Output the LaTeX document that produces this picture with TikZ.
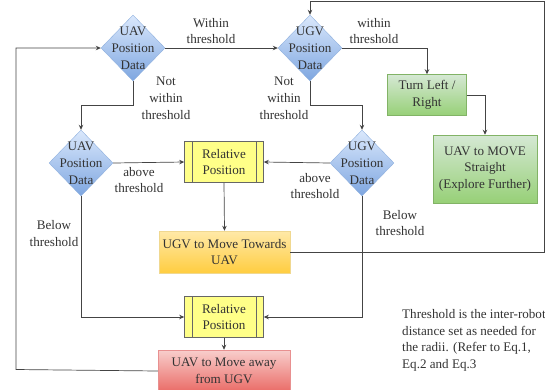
\documentclass[tikz,border=0pt]{standalone}
\usepackage{fontspec}
\setmainfont{Liberation Serif}
\usetikzlibrary{shapes.geometric,arrows.meta}
\definecolor{txt}{HTML}{333333}
\definecolor{lne}{HTML}{444444}
\definecolor{diatop}{HTML}{DAE8FC}
\definecolor{diabot}{HTML}{7EA6E0}
\definecolor{diaedge}{HTML}{8FB0DE}
\definecolor{grtop}{HTML}{D5E8D4}
\definecolor{grbot}{HTML}{97D077}
\definecolor{gredge}{HTML}{82B366}
\definecolor{ortop}{HTML}{FFE9A8}
\definecolor{orbot}{HTML}{FFCD40}
\definecolor{oredge}{HTML}{F0D890}
\definecolor{rdtop}{HTML}{F8CECC}
\definecolor{rdbot}{HTML}{EA6B66}
\definecolor{rdedge}{HTML}{E89090}
\definecolor{relfill}{HTML}{FFFF88}
\definecolor{reledge}{HTML}{666666}
\begin{document}
\begin{tikzpicture}[x=1pt,y=-1pt,
  every node/.style={font=\fontsize{13.1}{16.8}\selectfont, text=txt},
  dia/.style={diamond, minimum width=64pt, minimum height=66pt, inner sep=0pt,
    top color=diatop, bottom color=diabot, draw=diaedge, line width=0.4pt},
  dtext/.style={align=center, inner sep=0pt},
  lbl/.style={align=center, inner sep=0pt},
  greenbox/.style={rectangle, inner sep=0pt, align=center, top color=grtop, bottom color=grbot, draw=gredge, line width=0.5pt},
  orangebox/.style={rectangle, inner sep=0pt, align=center, top color=ortop, bottom color=orbot, draw=oredge, line width=0.5pt},
  redbox/.style={rectangle, inner sep=0pt, align=center, top color=rdtop, bottom color=rdbot, draw=rdedge, line width=0.5pt},
  relbox/.style={rectangle, inner sep=0pt, align=center, fill=relfill, draw=reledge, line width=0.6pt, minimum width=79pt, minimum height=41pt},
  arr/.style={draw=lne, line width=0.7pt, -{Stealth[length=5pt,width=4.5pt]}},
]
\useasboundingbox (0,0) rectangle (545,389);

% diamonds
\node[dia] (a1) at (133,48) {};
\node[dtext] (a1t) at (a1) {UAV\\Position\\Data};
\node[dia] (g1) at (310,48) {};
\node[dtext] (g1t) at (g1) {UGV\\Position\\Data};
\node[dia] (a2) at (81,163) {};
\node[dtext] (a2t) at (a2) {UAV\\Position\\Data};
\node[dia] (g2) at (362,163) {};
\node[dtext] (g2t) at (g2) {UGV\\Position\\Data};

% boxes
\node[greenbox, minimum width=79pt, minimum height=41pt] (turn) at (427,95) {Turn Left /\\Right};
\node[greenbox, minimum width=104pt, minimum height=68pt] (move) at (485,169) {UAV to MOVE\\Straight\\(Explore Further)};
\node[relbox] (r1) at (224,162) {Relative\\Position};
\node[relbox] (r2) at (224,317) {Relative\\Position};
\node[orangebox, minimum width=131pt, minimum height=42pt] (tow) at (224.5,252) {UGV to Move Towards\\UAV};
\node[redbox, minimum width=132pt, minimum height=42pt] (away) at (224,371) {UAV to Move away\\from UGV};

\foreach \r in {r1,r2}{
  \draw[draw=reledge, line width=0.6pt] ([xshift=8pt]\r.north west) -- ([xshift=8pt]\r.south west);
  \draw[draw=reledge, line width=0.6pt] ([xshift=-8pt]\r.north east) -- ([xshift=-8pt]\r.south east);
}

% coordinates for bends
\coordinate (rx1) at (544,252);
\coordinate (rx2) at (544,1);
\coordinate (rx3) at (310,1);
\coordinate (lx1) at (16,369.5);
\coordinate (lx2) at (16,48);
\coordinate (ak) at (81,105);
\coordinate (gk) at (362,105);

% connectors
\draw[arr] (a1.east) -- (g1.west);
\draw[arr] (g1.east) -| (turn.north);
\draw[arr] (turn.east) -| (move.north);
\draw[arr] (a1.south) |- (ak) -- (a2.north);
\draw[arr] (g1.south) |- (gk) -- (g2.north);
\draw[arr] (a2.east) -- (r1.west);
\draw[arr] (g2.west) -- (r1.east);
\draw[arr] (r1.south) -- (tow.north);
\draw[arr] (a2.south) |- (r2.west);
\draw[arr] (g2.south) |- (r2.east);
\draw[arr] (r2.south) -- (away.north);
\draw[arr] (tow.east) -- (rx1) -- (rx2) -- (rx3) -- (g1.north);
\draw[arr] (away.west) -- (lx1) -- (lx2) -- (a1.west);

% labels
\node[lbl] (l1) at (211,31) {Within\\threshold};
\node[lbl] (l2) at (374,31) {within\\threshold};
\node[lbl] (l3) at (166,98) {Not\\within\\threshold};
\node[lbl] (l4) at (284,98) {Not\\within\\threshold};
\node[lbl] (l5) at (139,180) {above\\threshold};
\node[lbl] (l6) at (315,186) {above\\threshold};
\node[lbl] (l7) at (54,233.5) {Below\\threshold};
\node[lbl] (l8) at (400,223) {Below\\threshold};
\node[align=left, inner sep=0pt, anchor=north west] (note) at (402,309) {Threshold is the inter-robot\\distance set as needed for\\the radii. (Refer to Eq.1,\\Eq.2 and Eq.3};
\end{tikzpicture}
\end{document}
